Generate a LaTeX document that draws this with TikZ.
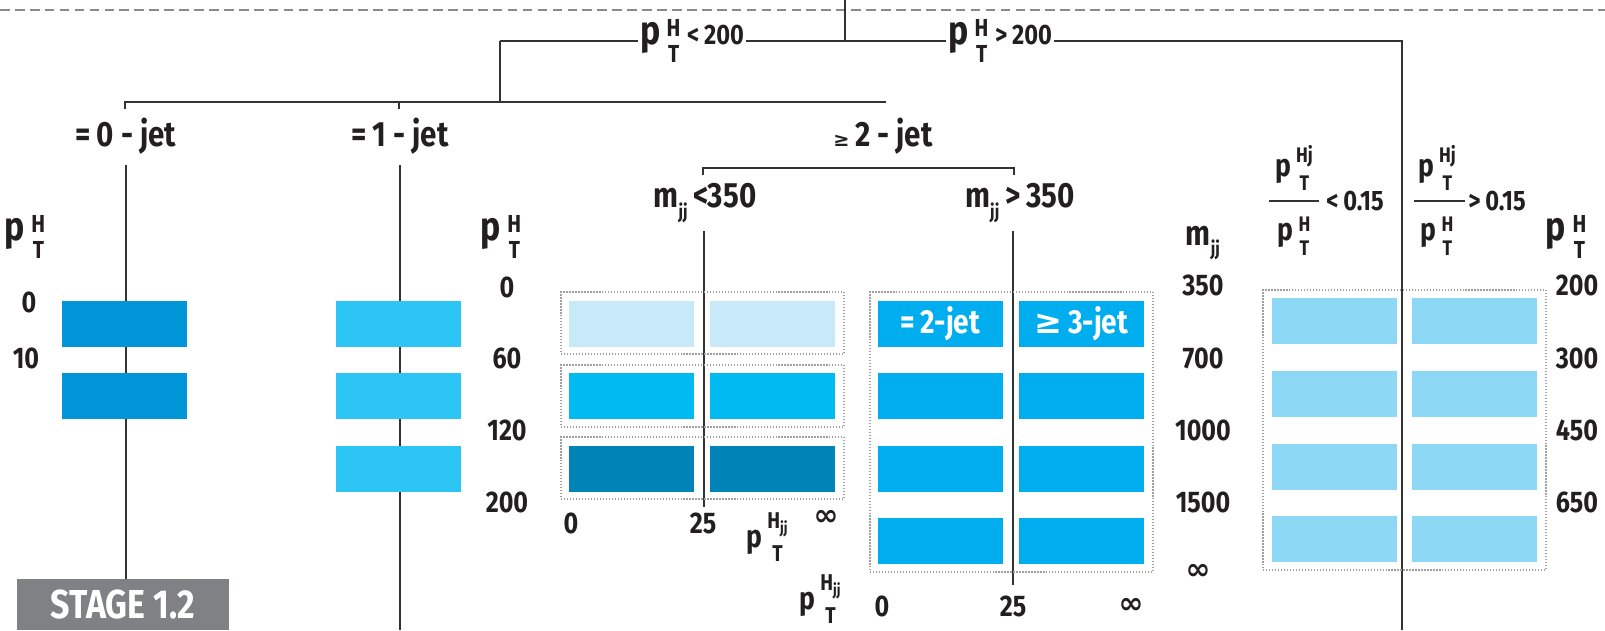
\documentclass[tikz,border=0pt]{standalone}
\usepackage{fontspec}
\setmainfont{Fira Sans}[FakeStretch=0.84]
\newfontfamily\symfont{DejaVu Sans}
\usetikzlibrary{positioning, calc}
\definecolor{lncol}{HTML}{333333}
\definecolor{dashcol}{HTML}{8A8A8A}
\definecolor{dotcol}{HTML}{A0A0A0}
\definecolor{stagecol}{HTML}{808184}
\definecolor{zerojet}{HTML}{0096D8}
\definecolor{onejet}{HTML}{2CC5F4}
\definecolor{vbfpale}{HTML}{C8EAF8}
\definecolor{vbfmid}{HTML}{00BAF2}
\definecolor{vbfdark}{HTML}{0084B7}
\definecolor{vbfhi}{HTML}{00AEEF}
\definecolor{boost}{HTML}{8DD8F5}
\definecolor{txtcol}{HTML}{231F20}

\newcommand{\ptsym}[2][14]{p\kern.16em\raisebox{-.45em}{\fontsize{#1}{#1}\selectfont\shortstack{#2\\[2pt]T}}}
\newcommand{\Hjj}{H\raisebox{-.25em}{\fontsize{9}{9}\selectfont jj}}
\newcommand{\mjj}{m\raisebox{-.3em}{\fontsize{11}{11}\selectfont jj}}
\newcommand{\infsym}{{\symfont\bfseries ∞}}

\begin{document}
\begin{tikzpicture}[x=0.02cm, y=-0.02cm,
    branch/.style={line width=1.3pt, color=lncol},
    bar/.style={rectangle, fill=#1, minimum width=2.5cm, minimum height=0.92cm, inner sep=0pt},
    grp/.style={rectangle, draw=dotcol, densely dotted, line width=0.7pt, inner sep=0pt},
    lbl/.style={font=\fontsize{20}{22}\selectfont\bfseries, text=txtcol, inner sep=1pt},
    num/.style={font=\fontsize{17}{19}\selectfont\bfseries, text=txtcol, inner sep=1pt},
    sym/.style={font=\fontsize{23}{25}\selectfont\bfseries, text=txtcol, inner sep=1pt},
    fsym/.style={font=\fontsize{18}{20}\selectfont\bfseries, text=txtcol, inner sep=0pt}
]
\useasboundingbox (0,0) rectangle (1605,630);

% Top dashed line
\coordinate (dl) at (0,10);
\coordinate (dr) at (1605,10);
\draw[dashcol, line width=1.2pt, dash pattern=on 5.5pt off 3pt] (dl) -- (dr);

% pT split
\coordinate (top) at (845,0);
\coordinate (root) at (845,41);
\node[sym] (lo) at (692,41) {\ptsym{H}\,{\fontsize{16}{16}\selectfont<\,200}};
\node[sym] (hi) at (1000,41) {\ptsym{H}\,{\fontsize{16}{16}\selectfont>\,200}};
\coordinate (lol) at (500,41);
\coordinate (hir) at (1402,41);
\coordinate (hib) at (1402,630);
\draw[branch] (top) -- (root);
\draw[branch] (lol) -- (lo.west);
\draw[branch] (lo.east) -- (hi.west);
\draw[branch] (hi.east) -- (hir) -- (hib);

% Jet split
\coordinate (jn) at (500,102);
\coordinate (jl) at (125,102);
\coordinate (jr) at (886,102);
\coordinate (t0) at (125,109);
\coordinate (t1) at (399,109);
\coordinate (t1a) at (399,102);
\draw[branch] (lol) -- (jn);
\draw[branch] (t0) -- (jl) -- (jr);
\draw[branch] (t1a) -- (t1);

% Jet labels
\node[lbl] (j0) at (126,136) {=\,0 - jet};
\node[lbl] (j1) at (400,136) {=\,1 - jet};
\node[lbl] (j2) at (883,136) {{\symfont\fontsize{11}{11}\selectfont ≥}\,2 - jet};

% Stage tag
\node[fill=stagecol, text=white, font=\fontsize{23}{25}\selectfont\bfseries, minimum width=4.24cm, minimum height=1.02cm, inner sep=0pt] (stage) at (123,604.5) {STAGE 1.2};

% 0-jet and 1-jet stems
\draw[branch, shorten <=5pt] (j0.south) -- (j0.south |- stage.north);
\draw[branch, shorten <=5pt] (j1.south) -- (j1.south |- hib);

% 0-jet bins
\node[sym] (pt0) at (25,237) {\ptsym{H}};
\node[num] (n0a) at (29,302) {0};
\node[num] (n0b) at (26,358) {10};
\node[bar=zerojet] (z1) at (124.5,324) {};
\node[bar=zerojet] (z2) at (124.5,396) {};

% 1-jet bins
\node[bar=onejet] (o1) at (398.5,324) {};
\node[bar=onejet] (o2) at (398.5,396) {};
\node[bar=onejet] (o3) at (398.5,469) {};
\node[sym] (pt1) at (501,237) {\ptsym{H}};
\node[num] (n1a) at (507,287) {0};
\node[num] (n1b) at (507,358) {60};
\node[num] (n1c) at (507,430) {120};
\node[num] (n1d) at (507,502) {200};

% >=2-jet bracket
\coordinate (bl) at (703,175);
\coordinate (blt) at (703,168);
\coordinate (brt) at (1014,168);
\coordinate (br) at (1014,175);
\draw[branch] (bl) -- (blt) -- (brt) -- (br);
\node[lbl] (mlo) at (705,203) {\mjj\,<350};
\node[lbl] (mhi) at (1020,203) {\mjj\,>\,350};
\coordinate (vlt) at (704,231);
\coordinate (vlb) at (704,507);
\coordinate (vrt) at (1013,231);
\coordinate (vrb) at (1013,585);
\draw[branch] (vlt) -- (vlb);
\draw[branch] (vrt) -- (vrb);

% mjj < 350 bins
\node[grp, minimum width=5.66cm, minimum height=1.24cm] (g1) at (702.5,323) {};
\node[grp, minimum width=5.66cm, minimum height=1.24cm] (g2) at (702.5,396) {};
\node[grp, minimum width=5.66cm, minimum height=1.24cm] (g3) at (702.5,468) {};
\node[bar=vbfpale] (a1) at (631.5,324) {};
\node[bar=vbfpale] (a2) at (772.5,324) {};
\node[bar=vbfmid] (a3) at (631.5,396) {};
\node[bar=vbfmid] (a4) at (772.5,396) {};
\node[bar=vbfdark] (a5) at (631.5,469) {};
\node[bar=vbfdark] (a6) at (772.5,469) {};
\node[num] (x1) at (571,523) {0};
\node[num] (x2) at (703,523) {25};
\node[fsym] (x3) at (767,537) {\ptsym[13]{\Hjj}};
\node[num] (x4) at (826,518) {\infsym};

% mjj > 350 bins
\node[grp, minimum width=5.66cm, minimum height=5.6cm] (g4) at (1011.5,432) {};
\node[bar=vbfhi, text=white, font=\fontsize{19}{21}\selectfont\bfseries] (b1) at (940.5,324) {=\,2-jet};
\node[bar=vbfhi, text=white, font=\fontsize{19}{21}\selectfont\bfseries] (b2) at (1081.5,324) {{\symfont ≥}\,3-jet};
\node[bar=vbfhi] (b3) at (940.5,396) {};
\node[bar=vbfhi] (b4) at (1081.5,396) {};
\node[bar=vbfhi] (b5) at (940.5,469) {};
\node[bar=vbfhi] (b6) at (1081.5,469) {};
\node[bar=vbfhi] (b7) at (940.5,541) {};
\node[bar=vbfhi] (b8) at (1081.5,541) {};
\node[fsym] (y0) at (820,599) {\ptsym[13]{\Hjj}};
\node[num] (y1) at (882,606) {0};
\node[num] (y2) at (1013,606) {25};
\node[num] (y3) at (1131,606) {\infsym};
\node[lbl] (mjj) at (1203,243) {\mjj};
\node[num] (m1) at (1203,285) {350};
\node[num] (m2) at (1203,358) {700};
\node[num] (m3) at (1203,430) {1000};
\node[num] (m4) at (1203,502) {1500};
\node[num] (m5) at (1198,572) {\infsym};

% Boosted split
\node[fsym] (f1n) at (1294,168) {\ptsym[12]{Hj}};
\node[fsym] (f1d) at (1294,236) {\ptsym[12]{H}};
\coordinate (f1a) at (1269,201);
\coordinate (f1b) at (1319,201);
\draw[branch] (f1a) -- (f1b);
\node[font=\fontsize{16}{18}\selectfont\bfseries, text=txtcol, inner sep=0pt] (f1r) at (1355,201) {<\,0.15};
\node[fsym] (f2n) at (1437,168) {\ptsym[12]{Hj}};
\node[fsym] (f2d) at (1437,236) {\ptsym[12]{H}};
\coordinate (f2a) at (1414,201);
\coordinate (f2b) at (1465,201);
\draw[branch] (f2a) -- (f2b);
\node[font=\fontsize{16}{18}\selectfont\bfseries, text=txtcol, inner sep=0pt] (f2r) at (1497,201) {>\,0.15};

% Boosted bins
\node[grp, minimum width=5.66cm, minimum height=5.6cm] (g5) at (1404.5,430) {};
\node[bar=boost] (c1) at (1334,321) {};
\node[bar=boost] (c2) at (1474.5,321) {};
\node[bar=boost] (c3) at (1334,394) {};
\node[bar=boost] (c4) at (1474.5,394) {};
\node[bar=boost] (c5) at (1334,467) {};
\node[bar=boost] (c6) at (1474.5,467) {};
\node[bar=boost] (c7) at (1334,539) {};
\node[bar=boost] (c8) at (1474.5,539) {};
\node[sym] (pt2) at (1566,237) {\ptsym{H}};
\node[num] (r1) at (1577,285) {200};
\node[num] (r2) at (1577,358) {300};
\node[num] (r3) at (1577,430) {450};
\node[num] (r4) at (1577,502) {650};

\end{tikzpicture}
\end{document}
